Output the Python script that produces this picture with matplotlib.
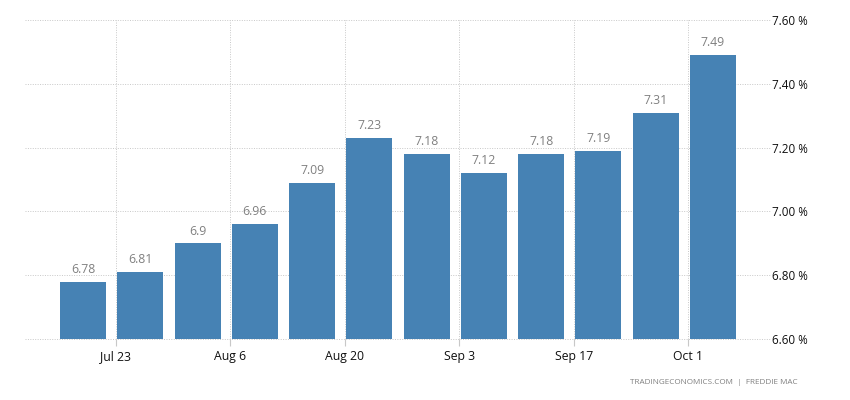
import matplotlib.pyplot as plt
import matplotlib.dates as mdates
import pandas as pd

plt.rcParams['font.family'] = ['Open Sans', 'DejaVu Sans']

# weekly mortgage rate, %
dates = ['2023-07-19', '2023-07-26', '2023-08-02', '2023-08-09', '2023-08-16', '2023-08-23',
         '2023-08-30', '2023-09-06', '2023-09-13', '2023-09-20', '2023-09-27', '2023-10-04']
values = [6.78, 6.81, 6.90, 6.96, 7.09, 7.23, 7.18, 7.12, 7.18, 7.19, 7.31, 7.49]
labels = ['6.78', '6.81', '6.9', '6.96', '7.09', '7.23', '7.18', '7.12', '7.18', '7.19', '7.31', '7.49']
tick_dates = ['2023-07-23', '2023-08-06', '2023-08-20', '2023-09-03', '2023-09-17', '2023-10-01']
tick_labels = ['Jul 23', 'Aug 6', 'Aug 20', 'Sep 3', 'Sep 17', 'Oct 1']
y_ticks = [6.6, 6.8, 7.0, 7.2, 7.4, 7.6]

x = mdates.date2num(pd.to_datetime(dates))
xt = mdates.date2num(pd.to_datetime(tick_dates))

fig = plt.figure(figsize=(8.5, 4), dpi=100)
ax = fig.add_axes([25 / 850, 1 - 339 / 400, 746 / 850, 319 / 400])

ax.bar(x, values, width=5.62, color='#4682b4', zorder=3)
for xi, v, lab in zip(x, values, labels):
    ax.text(xi, v + 0.018, lab, ha='center', va='bottom', fontsize=8.8, color='#808080')

ax.set_xlim(x[0] - 7.09, x[0] + 84.1)
ax.set_ylim(6.6, 7.6)
ax.set_xticks(xt)
ax.set_xticklabels(tick_labels)
ax.set_yticks(y_ticks)
ax.set_yticklabels([f'{t:.2f} %' for t in y_ticks])
ax.yaxis.tick_right()

ax.grid(True, color='#c8c8c8', linestyle=(0, (1, 1.5)), linewidth=0.7, zorder=0)
ax.set_axisbelow(True)
for line in ax.get_ygridlines() + ax.get_xgridlines():
    line.set_clip_on(False)
for s in ax.spines.values():
    s.set_visible(False)
ax.tick_params(axis='y', length=0, pad=1, labelsize=8.4, labelcolor='#101010')
ax.tick_params(axis='x', length=5, width=0.8, color='#c8c8c8', pad=3, labelsize=8.8, labelcolor='#101010')

fig.text(798 / 850, 1 - 383 / 400, 'TRADINGECONOMICS.COM  |  FREDDIE MAC', ha='right', va='center',
         fontsize=5.9, color='#808080')

fig.savefig('out.png', dpi=100)
